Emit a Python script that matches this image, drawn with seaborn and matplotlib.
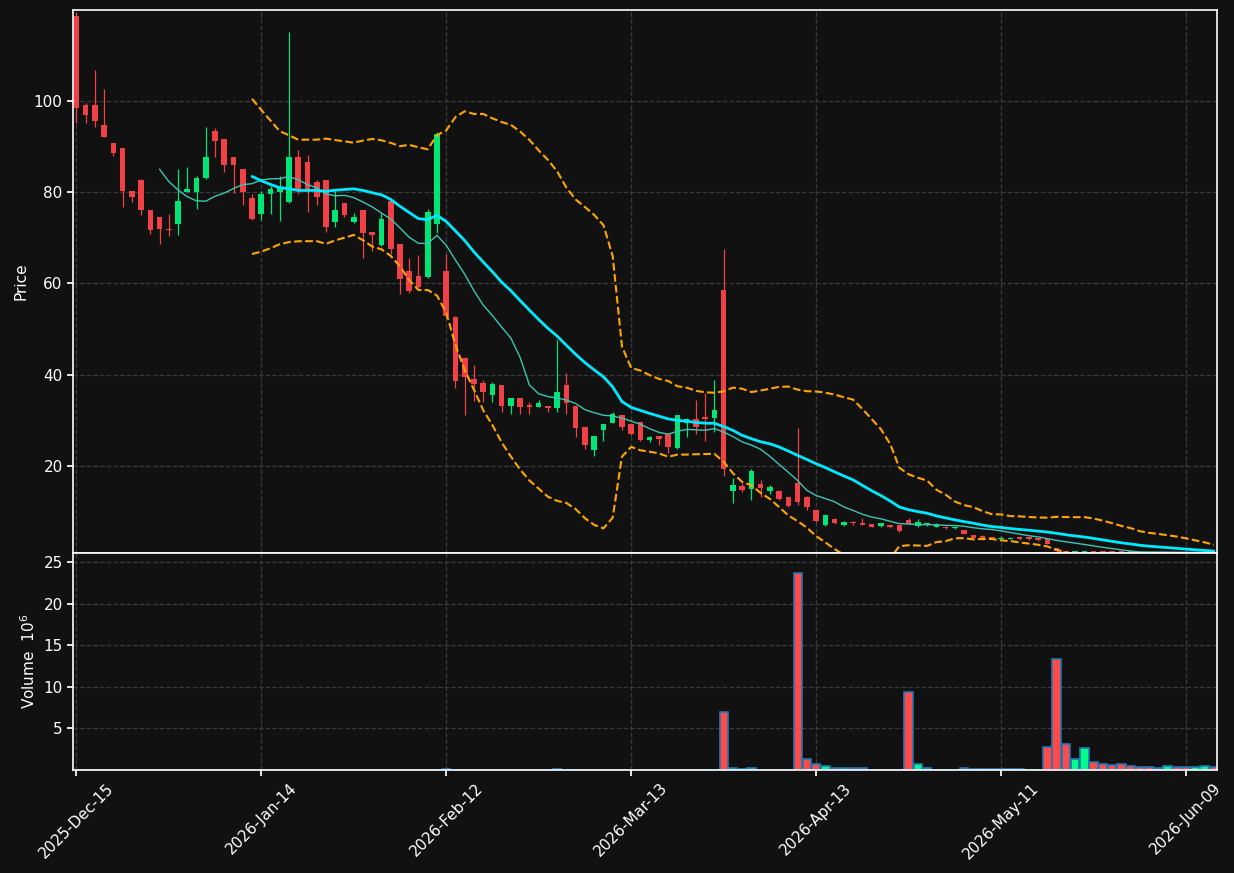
import numpy as np
import pandas as pd
import matplotlib
matplotlib.use("Agg")
import matplotlib.pyplot as plt
import seaborn as sns

# daily OHLC (price) and volume (millions), one entry per trading day
opens = [118.6, 99.1, 99.1, 94.7, 90.7, 89.7, 80.3, 82.7, 76.1, 74.6,
         72.0, 73.1, 80.1, 80.1, 83.0, 93.4, 91.7, 87.7, 85.1, 78.7,
         75.1, 79.5, 80.1, 77.9, 87.7, 86.6, 82.2, 82.7, 73.5, 77.6,
         73.4, 76.1, 71.3, 68.4, 78.1, 68.7, 62.7, 61.6, 61.4, 73.0,
         62.7, 52.7, 43.7, 39.0, 38.2, 35.6, 37.8, 33.2, 34.9, 33.3,
         33.0, 33.2, 32.6, 37.8, 33.2, 28.5, 23.5, 27.9, 29.4, 31.2,
         29.2, 29.6, 25.7, 26.6, 27.1, 23.9, 29.3, 30.3, 30.7, 30.5,
         58.6, 14.5, 15.7, 15.0, 16.1, 14.5, 14.5, 13.1, 16.3, 13.2,
         10.4, 7.1, 8.4, 7.1, 7.8, 7.5, 7.3, 6.9, 7.0, 7.0,
         8.2, 6.8, 7.1, 6.7, 6.7, 6.3, 6.0, 4.9, 4.7, 4.4,
         4.0, 4.0, 4.4, 4.4, 4.2, 4.0, 2.0, 1.35, 1.15, 1.15,
         1.3, 1.25, 1.2, 1.2, 1.15, 1.15, 1.15, 1.1, 1.05, 1.12,
         1.1, 1.02, 1.03, 1.1]
highs = [119.5, 99.6, 106.7, 102.6, 90.8, 89.7, 80.3, 82.9, 76.1, 74.6,
         75.2, 85.0, 85.5, 83.6, 94.2, 94.0, 91.7, 87.7, 85.1, 79.6,
         80.2, 81.3, 83.6, 115.0, 89.2, 88.2, 82.6, 82.7, 80.3, 77.6,
         75.5, 76.1, 71.3, 75.4, 78.1, 68.7, 65.6, 66.2, 76.2, 93.2,
         66.5, 52.9, 43.8, 42.1, 38.8, 38.3, 37.8, 34.9, 34.9, 34.1,
         34.5, 33.2, 47.5, 40.3, 33.2, 28.5, 26.6, 29.2, 31.9, 31.2,
         29.2, 29.6, 26.6, 26.6, 27.1, 31.2, 30.6, 34.5, 35.9, 38.9,
         67.5, 17.4, 16.2, 19.4, 16.9, 15.9, 14.8, 13.1, 28.2, 13.5,
         10.4, 9.2, 8.5, 7.9, 7.9, 8.5, 7.3, 7.6, 7.0, 7.0,
         8.6, 8.3, 7.6, 7.4, 6.8, 6.8, 6.0, 4.9, 4.8, 4.5,
         4.6, 4.4, 4.4, 4.4, 4.2, 4.0, 2.0, 1.4, 1.3, 1.3,
         1.3, 1.3, 1.25, 1.25, 1.2, 1.2, 1.2, 1.15, 1.15, 1.15,
         1.12, 1.12, 1.12, 1.12]
lows = [95.1, 95.1, 94.2, 92.0, 88.0, 76.8, 77.9, 75.0, 70.8, 68.6,
        70.3, 70.6, 80.0, 76.3, 82.8, 87.6, 84.5, 79.8, 77.1, 73.8,
        73.9, 75.2, 73.7, 77.5, 79.6, 75.6, 77.1, 71.2, 72.4, 74.5,
        73.2, 65.5, 67.0, 68.2, 66.5, 57.6, 57.9, 59.0, 61.2, 71.0,
        52.5, 37.0, 31.2, 34.3, 34.0, 34.1, 31.9, 31.3, 31.4, 31.3,
        32.8, 31.9, 31.9, 31.4, 26.4, 23.8, 22.1, 25.5, 29.3, 27.8,
        26.8, 25.5, 25.3, 24.5, 22.8, 23.7, 26.3, 26.9, 25.5, 27.5,
        17.9, 11.8, 14.2, 12.5, 13.1, 13.9, 12.5, 11.1, 11.5, 10.4,
        7.8, 6.8, 7.2, 6.9, 7.0, 7.0, 6.6, 6.7, 6.5, 5.6,
        7.2, 6.7, 6.9, 6.6, 6.2, 6.2, 5.0, 4.2, 3.8, 4.1,
        3.9, 3.9, 3.8, 3.8, 3.6, 2.8, 1.2, 1.15, 1.1, 1.1,
        1.1, 1.1, 1.05, 1.05, 1.05, 1.0, 1.0, 1.0, 1.0, 1.0,
        0.98, 0.98, 0.98, 0.95]
closes = [98.5, 96.8, 95.5, 92.0, 88.5, 80.3, 79.0, 76.0, 71.6, 71.9,
          71.6, 78.1, 80.7, 83.1, 87.7, 91.1, 86.0, 86.0, 80.1, 74.0,
          79.6, 80.7, 81.2, 87.7, 80.5, 80.6, 79.0, 72.4, 76.1, 75.0,
          74.6, 71.1, 70.5, 74.1, 67.6, 61.0, 58.4, 59.3, 75.7, 92.8,
          52.9, 38.7, 39.4, 38.0, 36.1, 38.0, 33.2, 34.9, 33.0, 33.0,
          33.7, 32.6, 36.2, 33.7, 28.4, 24.5, 26.6, 29.2, 31.4, 28.5,
          27.0, 25.7, 26.4, 25.9, 24.2, 31.2, 30.3, 28.6, 30.3, 32.3,
          19.3, 15.8, 14.7, 18.9, 15.1, 15.4, 12.8, 11.3, 12.2, 10.9,
          8.0, 9.2, 7.5, 7.7, 7.4, 7.1, 6.7, 7.5, 6.6, 5.8,
          7.3, 7.7, 7.5, 7.3, 6.3, 6.7, 5.1, 4.3, 4.2, 4.2,
          4.3, 4.2, 3.9, 3.9, 3.7, 2.9, 1.3, 1.2, 1.25, 1.25,
          1.15, 1.15, 1.1, 1.1, 1.1, 1.05, 1.05, 1.05, 1.12, 1.05,
          1.02, 1.08, 1.1, 1.0]
volumes = [0.02, 0.02, 0.02, 0.02, 0.02, 0.02, 0.02, 0.02, 0.02, 0.02,
           0.02, 0.02, 0.02, 0.02, 0.02, 0.02, 0.02, 0.02, 0.02, 0.02,
           0.02, 0.02, 0.02, 0.03, 0.02, 0.02, 0.02, 0.02, 0.02, 0.02,
           0.02, 0.02, 0.02, 0.02, 0.02, 0.02, 0.02, 0.02, 0.02, 0.03,
           0.12, 0.02, 0.02, 0.02, 0.02, 0.02, 0.02, 0.02, 0.02, 0.02,
           0.02, 0.02, 0.10, 0.02, 0.02, 0.02, 0.02, 0.02, 0.02, 0.02,
           0.02, 0.02, 0.02, 0.02, 0.02, 0.02, 0.02, 0.02, 0.02, 0.02,
           7.0, 0.26, 0.10, 0.26, 0.06, 0.06, 0.06, 0.06, 23.75, 1.35,
           0.75, 0.5, 0.26, 0.26, 0.26, 0.26, 0.06, 0.06, 0.06, 0.06,
           9.4, 0.75, 0.26, 0.05, 0.05, 0.05, 0.26, 0.08, 0.08, 0.08,
           0.08, 0.08, 0.08, 0.03, 0.03, 2.8, 13.4, 3.15, 1.35, 2.67,
           0.99, 0.75, 0.63, 0.75, 0.5, 0.38, 0.38, 0.26, 0.5, 0.38,
           0.38, 0.38, 0.5, 0.38]

holidays = ["2025-12-25", "2026-01-01", "2026-01-19", "2026-02-16",
            "2026-04-03", "2026-05-25"]
dates = pd.bdate_range("2025-12-15", periods=len(closes), freq="C",
                       holidays=holidays)

df = pd.DataFrame({"Open": opens, "High": highs, "Low": lows,
                   "Close": closes, "Volume": volumes}, index=dates)
df["i"] = np.arange(len(df))
df["ma10"] = df["Close"].rolling(10).mean()
df["ma20"] = df["Close"].rolling(20).mean()
std20 = df["Close"].rolling(20).std()
df["bb_up"] = df["ma20"] + 2 * std20
df["bb_lo"] = df["ma20"] - 2 * std20

bg = "#111111"
sns.set_theme(style="dark", rc={
    "figure.facecolor": bg, "axes.facecolor": bg, "savefig.facecolor": bg,
    "axes.edgecolor": "white", "axes.labelcolor": "white",
    "xtick.color": "white", "ytick.color": "white", "text.color": "white",
    "grid.color": "#3a3a3a", "grid.linestyle": "--", "grid.linewidth": 0.9,
    "xtick.bottom": True, "ytick.left": True,
    "xtick.major.size": 4, "ytick.major.size": 4,
})
plt.rcParams["font.family"] = ["DejaVu Sans"]

fig = plt.figure(figsize=(12.34, 8.73), dpi=100)
ax1 = fig.add_axes([0.0592, 0.3666, 0.9271, 0.6220])
ax2 = fig.add_axes([0.0592, 0.1180, 0.9271, 0.2486], sharex=ax1)

up = df["Close"] >= df["Open"]
candle_col = np.where(up, "#00e676", "#ef4146")
vol_col = np.where(up, "#00ff88", "#ff4a4a")

# candles
ax1.vlines(df["i"], df["Low"], df["High"], colors=candle_col, linewidth=0.9, zorder=2)
body_lo = np.minimum(df["Open"], df["Close"])
body_h = np.maximum(np.abs(df["Close"] - df["Open"]), 0.15)
ax1.bar(df["i"], body_h, bottom=body_lo, width=0.6, color=candle_col,
        linewidth=0, zorder=2.2)

# moving averages and bands
sns.lineplot(data=df, x="i", y="ma10", ax=ax1, color="#3cc4b4", linewidth=1.0, zorder=4)
sns.lineplot(data=df, x="i", y="ma20", ax=ax1, color="#00eaff", linewidth=2.0, zorder=4)
sns.lineplot(data=df, x="i", y="bb_up", ax=ax1, color="#ffa500", linewidth=1.5,
             linestyle="--", zorder=4)
sns.lineplot(data=df, x="i", y="bb_lo", ax=ax1, color="#ffa500", linewidth=1.5,
             linestyle="--", zorder=4)

# volume (below the spines so near-zero bars stay hidden)
ax2.bar(df["i"], df["Volume"], width=0.9, color=vol_col, edgecolor="#1f77b4",
        linewidth=1.2, zorder=2)

ax1.set_xlim(-0.35, 123.35)
ax1.set_ylim(0.93, 119.9)
ax2.set_ylim(0.3 * min(volumes), 1.1 * max(volumes))

tick_pos = list(range(0, len(df), 20))
ax2.set_xticks(tick_pos)
ax2.set_xticklabels([dates[p].strftime("%Y-%b-%d") for p in tick_pos],
                    rotation=45, ha="center", fontsize=11)
ax1.tick_params(axis="x", labelbottom=False)
ax1.set_yticks([20, 40, 60, 80, 100])
ax2.set_yticks([5, 10, 15, 20, 25])
for ax in (ax1, ax2):
    ax.tick_params(axis="y", labelsize=11)
    ax.grid(True, axis="both", zorder=0)
    ax.set_axisbelow(True)
    ax.set_xlabel("")
    for s in ax.spines.values():
        s.set_color("white")
        s.set_linewidth(1.2)
        s.set_zorder(5)

ax1.set_ylabel("Price", fontsize=11)
ax2.set_ylabel("Volume  $10^{6}$", fontsize=11)

fig.savefig("out.png", dpi=100, facecolor=bg)
